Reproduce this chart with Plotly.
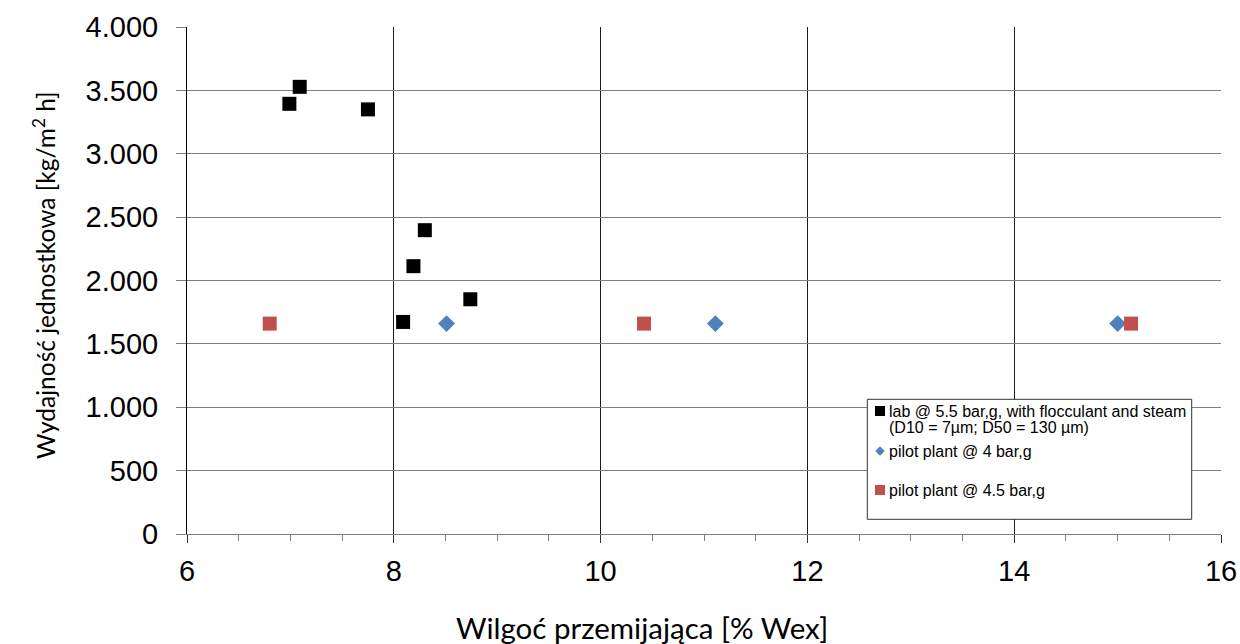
import plotly.graph_objects as go

# Data
lab_x = [6.99, 7.09, 7.75, 8.30, 8.19, 8.74, 8.09]
lab_y = [3394, 3528, 3350, 2397, 2113, 1852, 1673]
p4_x = [8.51, 11.11, 15.00]
p4_y = [1660, 1660, 1660]
p45_x = [6.80, 10.42, 15.13]
p45_y = [1660, 1660, 1660]

lab_name = "lab @ 5.5 bar,g, with flocculant and steam"
lab_name2 = "(D10 = 7µm; D50 = 130 µm)"
p4_name = "pilot plant @ 4 bar,g"
p45_name = "pilot plant @ 4.5 bar,g"
x_title = "Wilgoć przemijająca [% Wex]"
y_title = "Wydajność jednostkowa [kg/m<sup>2</sup> h]"

W, H = 1240, 644
L, R, T, B = 187, 19, 27, 110
PW, PH = W - L - R, H - T - B


def px(x):
    return (x - L) / PW


def py(y):
    return (H - B - y) / PH


fig = go.Figure()
fig.add_trace(go.Scatter(x=lab_x, y=lab_y, mode="markers", name=lab_name,
                         marker=dict(symbol="square", size=14, color="#000000")))
fig.add_trace(go.Scatter(x=p4_x, y=p4_y, mode="markers", name=p4_name,
                         marker=dict(symbol="diamond", size=13, color="#4F81BD")))
fig.add_trace(go.Scatter(x=p45_x, y=p45_y, mode="markers", name=p45_name,
                         marker=dict(symbol="square", size=14, color="#C0504D")))

shapes = []
annotations = []

# legend box
shapes.append(dict(type="rect", xref="paper", yref="paper",
                   x0=px(867.3), x1=px(1191.7), y0=py(519.3), y1=py(399.3),
                   line=dict(color="#333", width=1), fillcolor="white", layer="above"))
# legend symbols
shapes.append(dict(type="rect", xref="paper", yref="paper",
                   x0=px(875), x1=px(885), y0=py(416), y1=py(406),
                   line=dict(width=0), fillcolor="#000000", layer="above"))
shapes.append(dict(type="path", xref="paper", yref="paper",
                   path=f"M {px(875.3)} {py(451)} L {px(880)} {py(446.3)} L {px(884.7)} {py(451)} L {px(880)} {py(455.7)} Z",
                   line=dict(width=0), fillcolor="#4F81BD", layer="above"))
shapes.append(dict(type="rect", xref="paper", yref="paper",
                   x0=px(875), x1=px(885), y0=py(495), y1=py(485),
                   line=dict(width=0), fillcolor="#C0504D", layer="above"))

leg_font = dict(size=16, family="Liberation Sans, Arial", color="#000")
for txt, yc in [(lab_name, 411), (lab_name2, 427), (p4_name, 451), (p45_name, 490)]:
    annotations.append(dict(text=txt, xref="paper", yref="paper", x=px(886.5), y=py(yc),
                            xanchor="left", yanchor="middle", showarrow=False, font=leg_font))

# axis titles
annotations.append(dict(text=x_title, xref="paper", yref="paper", x=px(642), y=py(627),
                        xanchor="center", yanchor="middle", showarrow=False,
                        font=dict(size=29.5, family="Lato", color="#000")))
annotations.append(dict(text=y_title, xref="paper", yref="paper", x=px(44), y=py(275),
                        xanchor="center", yanchor="middle", showarrow=False, textangle=-90,
                        font=dict(size=24.5, family="Lato", color="#000")))

fig.update_layout(
    width=W, height=H,
    margin=dict(l=L, r=R, t=T, b=B),
    paper_bgcolor="white", plot_bgcolor="white",
    separators=",.",
    font=dict(family="Liberation Sans, Arial", color="#000"),
    showlegend=False,
    shapes=shapes,
    annotations=annotations,
)

fig.update_xaxes(
    range=[6, 16], dtick=2, tick0=6, automargin=False,
    showgrid=True, gridcolor="#1a1a1a", gridwidth=1,
    showline=True, linecolor="#808080", linewidth=1,
    ticks="outside", ticklen=8, tickcolor="#333",
    tickfont=dict(size=29, family="Liberation Sans, Arial"),
    ticklabelstandoff=3,
    minor=dict(dtick=0.5, ticks="outside", ticklen=6, tickcolor="#808080", showgrid=False),
    zeroline=False,
)
fig.update_yaxes(
    range=[0, 4000], dtick=500, tick0=0, tickformat=",d", automargin=False,
    showgrid=True, gridcolor="#7f7f7f", gridwidth=1,
    showline=True, linecolor="#000", linewidth=1,
    ticks="outside", ticklen=10, tickcolor="#7f7f7f",
    tickfont=dict(size=29, family="Liberation Sans, Arial"),
    ticklabelstandoff=12,
    zeroline=False,
)

fig.write_html("out.html",
               config=dict(displayModeBar=False),
               post_script="document.body.style.margin='0';document.body.style.padding='0';")
